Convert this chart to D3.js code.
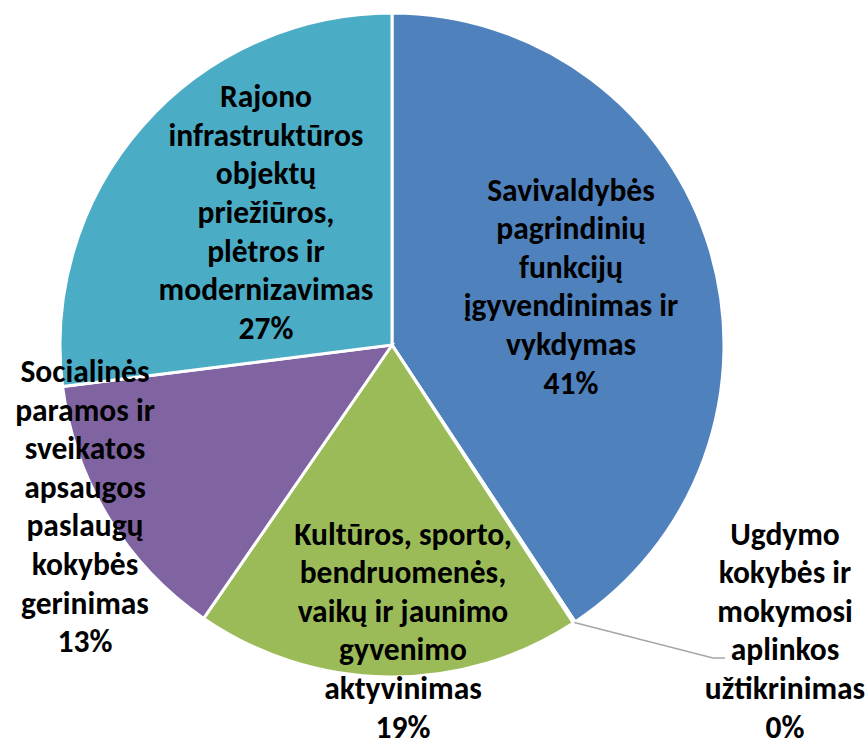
<!DOCTYPE html>
<html>
<head>
<meta charset="utf-8">
<script src="https://cdn.jsdelivr.net/npm/d3@7"></script>
<style>
  body { margin: 0; background: #fff; }
  svg { display: block; }
</style>
</head>
<body>
<script>
// categories and their share (%)
const categories = [
  "Savivaldybės pagrindinių funkcijų įgyvendinimas ir vykdymas",
  "Ugdymo kokybės ir mokymosi aplinkos užtikrinimas",
  "Kultūros, sporto, bendruomenės, vaikų ir jaunimo gyvenimo aktyvinimas",
  "Socialinės paramos ir sveikatos apsaugos paslaugų kokybės gerinimas",
  "Rajono infrastruktūros objektų priežiūros, plėtros ir modernizavimas"
];
const values = [40.7, 0.1, 18.8, 13.4, 27.0];
// label text split into lines as in the chart
const labelLines = [
  ["Savivaldybės", "pagrindinių", "funkcijų", "įgyvendinimas ir", "vykdymas"],
  ["Ugdymo", "kokybės ir", "mokymosi", "aplinkos", "užtikrinimas"],
  ["Kultūros, sporto,", "bendruomenės,", "vaikų ir jaunimo", "gyvenimo", "aktyvinimas"],
  ["Socialinės", "paramos ir", "sveikatos", "apsaugos", "paslaugų", "kokybės", "gerinimas"],
  ["Rajono", "infrastruktūros", "objektų", "priežiūros,", "plėtros ir", "modernizavimas"]
];
const colors = ["#4F81BD", "#C0504D", "#9BBB59", "#8064A2", "#4BACC6"];

const width = 868, height = 738;
const cx = 392, cy = 345, radius = 332;
const lineH = 38.6;
// label block centres (layout)
const labelPos = [[571, 286], [785, 630], [403, 630], [85, 506], [266, 212]];

const svg = d3.select("body").append("svg")
  .attr("width", width)
  .attr("height", height);

const g = svg.append("g")
  .attr("transform", "translate(" + cx + "," + cy + ")");

const pie = d3.pie().sort(null).value(d => d);
const arcs = pie(values);
const arc = d3.arc().innerRadius(0).outerRadius(radius);

g.selectAll("path")
  .data(arcs)
  .enter()
  .append("path")
  .attr("d", arc)
  .attr("fill", (d, i) => colors[i])
  .attr("stroke", "#fff")
  .attr("stroke-width", 3)
  .attr("stroke-linejoin", "miter");

// leader line for the tiny slice
const tiny = arcs[1];
const mid = (tiny.startAngle + tiny.endAngle) / 2;
const p0 = [cx + radius * Math.sin(mid), cy - radius * Math.cos(mid)];
svg.append("polyline")
  .attr("points", [p0, [713, 658], [725, 658]].map(p => p.join(",")).join(" "))
  .attr("fill", "none")
  .attr("stroke", "#A6A6A6")
  .attr("stroke-width", 1.5);

// labels
labelLines.forEach((lines, i) => {
  const all = lines.concat([Math.round(values[i]) + "%"]);
  const [lx, ly] = labelPos[i];
  const y0 = ly - (all.length - 1) * lineH / 2;
  const t = svg.append("text")
    .attr("text-anchor", "middle")
    .style("font-family", "Carlito, Calibri, Lato, sans-serif")
    .style("font-weight", "bold")
    .style("font-size", "31.5px")
    .style("fill", "#000");
  all.forEach((s, j) => {
    t.append("tspan")
      .attr("x", lx)
      .attr("y", y0 + j * lineH)
      .attr("dy", "0.35em")
      .text(s);
  });
});
</script>
</body>
</html>
